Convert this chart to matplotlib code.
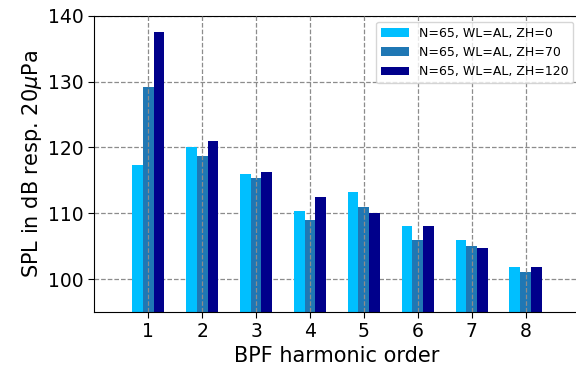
import matplotlib
matplotlib.use("Agg")
import matplotlib.pyplot as plt
import numpy as np

orders = [1, 2, 3, 4, 5, 6, 7, 8]
zh0 = [117.4, 120.0, 115.9, 110.3, 113.2, 108.1, 106.0, 101.8]
zh70 = [129.2, 118.7, 115.4, 108.9, 110.9, 106.0, 105.0, 101.0]
zh120 = [137.5, 120.9, 116.2, 112.5, 110.0, 108.0, 104.7, 101.8]
labels = ["N=65, WL=AL, ZH=0", "N=65, WL=AL, ZH=70", "N=65, WL=AL, ZH=120"]
yticks = [100, 110, 120, 130, 140]

colors = ["#00BFFF", "#1F77B4", "#00008B"]

fig = plt.figure(figsize=(5.76, 3.67), dpi=100)
ax = fig.add_axes([94.3 / 576, 1 - 312 / 367, (579.5 - 94.3) / 576, (312 - 15.7) / 367])

x = np.array(orders, dtype=float)
w = 0.2
for i, (vals, c, lab) in enumerate(zip([zh0, zh70, zh120], colors, labels)):
    ax.bar(x + (i - 1) * w, vals, width=w, color=c, label=lab, zorder=1)

ax.set_xlim(0, 9)
ax.set_ylim(95, 140)
ax.set_xticks(orders)
ax.set_yticks(yticks)
ax.tick_params(labelsize=13.5, length=4)
ax.set_xlabel("BPF harmonic order", fontsize=15, labelpad=3)
ax.set_ylabel(r"SPL in dB resp. 20$\mu$Pa", fontsize=15, labelpad=3)

ax.set_axisbelow(True)
ax.grid(True, linestyle="--", color="#8c8c8c", linewidth=0.9)
ax.xaxis.set_zorder(2.5)

leg = ax.legend(loc="upper right", fontsize=9, framealpha=0.8,
                handlelength=2.2, borderaxespad=0.5)
leg.set_zorder(5)

fig.savefig("out.png", dpi=100)
